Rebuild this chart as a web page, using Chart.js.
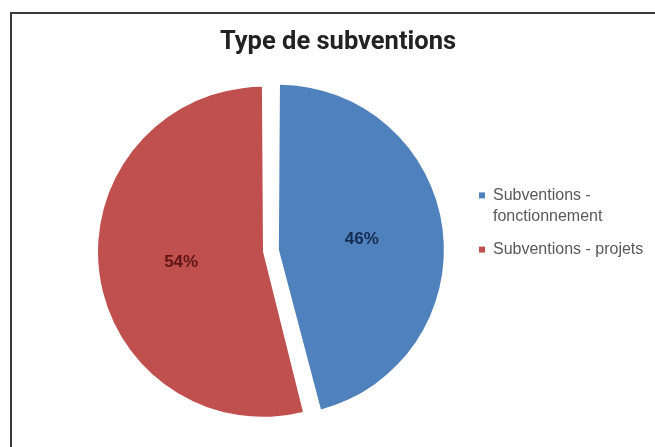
<!DOCTYPE html>
<html>
<head>
<meta charset="utf-8">
<title>Type de subventions</title>
<script src="https://cdn.jsdelivr.net/npm/chart.js@4/dist/chart.umd.min.js"></script>
<style>
  html, body { margin: 0; padding: 0; background: #fff; overflow: hidden; }
  #wrap { position: relative; width: 655px; height: 447px; }
  #frame { position: absolute; left: 10px; top: 12px; width: 700px; height: 500px;
           border-left: 2px solid #3a3a3a; border-top: 2px solid #3a3a3a; }
  #chart { position: absolute; left: 0; top: 0; }
</style>
</head>
<body>
<div id="wrap">
  <div id="frame"></div>
  <canvas id="chart" width="655" height="447"></canvas>
</div>
<script>
var categories = [['Subventions -', 'fonctionnement'], 'Subventions - projets'];
var shares = [46, 54];
var sliceColors = ['#4F81BD', '#C0504D'];
var labelColors = ['#142C50', '#601414'];
var sliceOffsets = [36.56, 27.4];

// percentage text in the middle of each slice
var percentLabels = {
  id: 'percentLabels',
  afterDatasetsDraw: function(chart) {
    var ctx = chart.ctx;
    var meta = chart.getDatasetMeta(0);
    ctx.save();
    ctx.font = 'bold 17px "Liberation Sans", Arial, sans-serif';
    ctx.textAlign = 'center';
    ctx.textBaseline = 'middle';
    for (var i = 0; i < meta.data.length; i++) {
      var arc = meta.data[i];
      var mid = (arc.startAngle + arc.endAngle) / 2;
      var shift = arc.options.offset / 4;
      var dist = shift + (arc.outerRadius + shift) / 2;
      ctx.fillStyle = labelColors[i];
      ctx.fillText(shares[i] + '%', arc.x + Math.cos(mid) * dist, arc.y + Math.sin(mid) * dist);
    }
    ctx.restore();
  }
};

// legend box is kept narrow so the title stays centred on the frame,
// let the legend text run past it instead of being clipped
var legendNoClip = {
  id: 'legendNoClip',
  beforeDraw: function(chart) {
    var legend = chart.legend;
    if (legend && typeof legend._draw === 'function' && !legend._noClip) {
      legend._noClip = true;
      legend.draw = function() {
        if (this.options.display) this._draw();
      };
    }
  }
};

new Chart(document.getElementById('chart').getContext('2d'), {
  type: 'pie',
  data: {
    labels: categories,
    datasets: [{
      data: shares,
      backgroundColor: sliceColors,
      borderWidth: 0,
      offset: sliceOffsets,
      hoverOffset: 0,
      radius: 158.14
    }]
  },
  options: {
    responsive: false,
    animation: false,
    layout: { padding: { left: 71.6, right: 50.6, top: 13, bottom: 15 } },
    plugins: {
      title: {
        display: true,
        text: 'Type de subventions',
        color: '#222222',
        font: { family: 'Roboto, "Liberation Sans", Arial, sans-serif', size: 25.5, weight: 'bold', lineHeight: '34px' },
        padding: { top: 13, bottom: 10 }
      },
      legend: {
        position: 'right',
        maxWidth: 136.4,
        labels: {
          boxWidth: 6,
          boxHeight: 6,
          padding: 11,
          color: '#595959',
          font: { family: '"Liberation Sans", Arial, sans-serif', size: 16, lineHeight: 1.35 }
        }
      },
      tooltip: { enabled: false }
    }
  },
  plugins: [percentLabels, legendNoClip]
});
</script>
</body>
</html>
